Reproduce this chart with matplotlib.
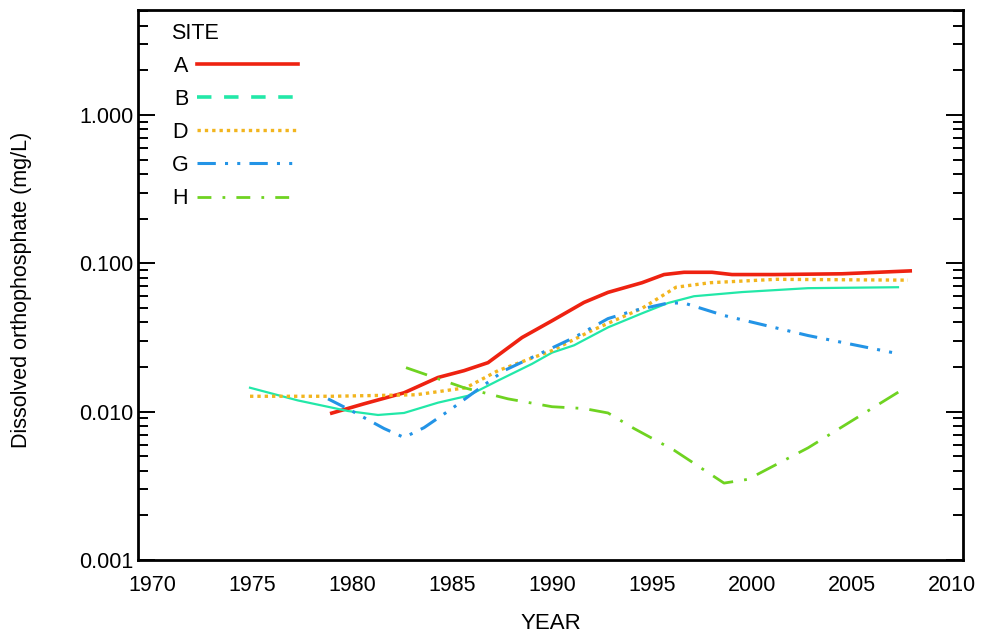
import matplotlib
matplotlib.use("Agg")
from matplotlib import pyplot as plt
from matplotlib.lines import Line2D
from matplotlib.ticker import FixedLocator, FixedFormatter, LogLocator, NullFormatter

plt.rcParams['font.family'] = ['Liberation Sans', 'DejaVu Sans']

# site A
a_year = [1978.9, 1980.6, 1982.6, 1984.3, 1985.6, 1986.8, 1988.5, 1990.0, 1991.6, 1992.8,
          1994.5, 1995.6, 1996.6, 1998.0, 1999.0, 2001.1, 2004.5, 2008.0]
a_val = [0.0097, 0.0113, 0.0134, 0.0170, 0.0189, 0.0214, 0.0316, 0.041, 0.0545, 0.0637,
         0.074, 0.084, 0.087, 0.087, 0.084, 0.084, 0.085, 0.089]
# site B
b_year = [1974.9, 1977.3, 1979.8, 1981.3, 1982.6, 1984.3, 1985.8, 1987.3, 1989.0, 1990.0,
          1991.1, 1992.8, 1994.5, 1995.8, 1997.1, 1999.5, 2002.8, 2007.3]
b_val = [0.0145, 0.0119, 0.0101, 0.0095, 0.0098, 0.0115, 0.0128, 0.0162, 0.021, 0.025,
         0.028, 0.037, 0.046, 0.054, 0.060, 0.064, 0.068, 0.069]
# site D
d_year = [1974.9, 1979.0, 1983.2, 1985.7, 1987.3, 1990.0, 1992.0, 1994.5, 1996.2, 1997.9,
          2001.2, 2007.8]
d_val = [0.0127, 0.0127, 0.0130, 0.0145, 0.0189, 0.0258, 0.0353, 0.0497, 0.069, 0.074,
         0.078, 0.077]
# site G
g_year = [1978.8, 1980.0, 1981.6, 1982.6, 1983.6, 1985.0, 1986.0, 1987.6, 1989.0, 1991.1,
          1992.8, 1994.1, 1995.8, 1996.6, 1998.6, 2002.8, 2007.3]
g_val = [0.0122, 0.0101, 0.0077, 0.0067, 0.0078, 0.0105, 0.0132, 0.0189, 0.0232, 0.0316,
         0.0424, 0.048, 0.054, 0.054, 0.0445, 0.0326, 0.0246]
# site H
h_year = [1982.7, 1985.6, 1987.8, 1990.0, 1991.6, 1992.8, 1994.1, 1996.1, 1998.6, 1999.8,
          2002.8, 2007.6]
h_val = [0.0198, 0.0145, 0.0122, 0.0108, 0.0105, 0.0098, 0.0077, 0.0055, 0.0033, 0.0035,
         0.0057, 0.0143]

sites = ["A", "B", "D", "G", "H"]
year_ticks = [1970, 1975, 1980, 1985, 1990, 1995, 2000, 2005, 2010]
y_ticks = [0.001, 0.01, 0.1, 1.0]
y_tick_labels = ["0.001", "0.010", "0.100", "1.000"]

red = "#ee2211"
teal = "#22e8a8"
orange = "#f2b51e"
blue = "#2394e6"
green = "#6fd321"

fig = plt.figure(figsize=(9.88, 6.33), dpi=100)
ax = fig.add_axes([0.1397, 0.1153, 0.835, 0.8689])

ax.plot(a_year, a_val, color=red, lw=2.6, solid_capstyle='butt')
ax.plot(b_year, b_val, color=teal, lw=1.6)
ax.plot(d_year, d_val, color=orange, lw=2.4, dashes=(1, 1.2))
ax.plot(g_year, g_val, color=blue, lw=2.2, dashes=(6, 3, 1, 3, 1, 3))
ax.plot(h_year, h_val, color=green, lw=2.0, dashes=(8, 4, 1, 4))

ax.set_yscale('log')
ax.set_xlim(1969.3, 2010.55)
ax.set_ylim(0.001, 5.1)

ax.xaxis.set_major_locator(FixedLocator(year_ticks))
ax.tick_params(axis='x', length=0, pad=11, labelsize=15.5)
ax.yaxis.set_major_locator(FixedLocator(y_ticks))
ax.yaxis.set_major_formatter(FixedFormatter(y_tick_labels))
ax.yaxis.set_minor_locator(LogLocator(base=10, subs=range(2, 10)))
ax.yaxis.set_minor_formatter(NullFormatter())
ax.tick_params(axis='y', which='major', direction='in', length=12, width=1.4,
               left=True, right=True, labelsize=15.5, pad=3)
ax.tick_params(axis='y', which='minor', direction='in', length=7, width=1.4,
               left=True, right=True)
for s in ax.spines.values():
    s.set_linewidth(2)

ax.set_xlabel("YEAR", fontsize=16, labelpad=12)
fig.text(22 / 988, 0.542, "Dissolved orthophosphate (mg/L)", rotation=90,
         fontsize=15.5, ha='center', va='center')

handles = [
    Line2D([], [], color=red, lw=2.6),
    Line2D([], [], color=teal, lw=2.6, dashes=(4, 3.5)),
    Line2D([], [], color=orange, lw=2.4, dashes=(1, 1.2)),
    Line2D([], [], color=blue, lw=2.2, dashes=(6, 3, 1, 3, 1, 3)),
    Line2D([], [], color=green, lw=2.0, dashes=(5, 4, 1, 4)),
]
leg = ax.legend(handles, sites, title="SITE", loc='upper left', bbox_to_anchor=(0.017, 1.012),
                frameon=False, markerfirst=False, handlelength=4.7, handletextpad=0.4,
                labelspacing=0.56, fontsize=15.5, title_fontsize=15.5, alignment='left')

fig.savefig("out.png", dpi=100)
